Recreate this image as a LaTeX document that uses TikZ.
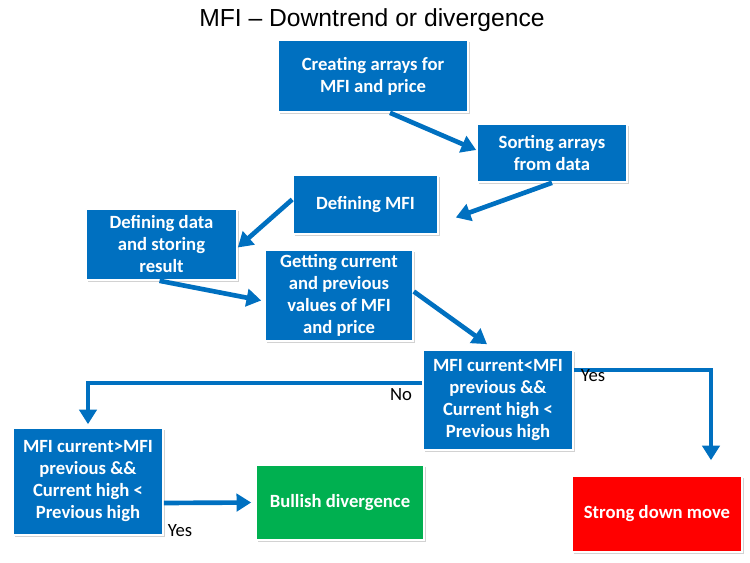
\documentclass[tikz,border=0pt]{standalone}
\usepackage{fontspec}
\setmainfont{Carlito}
\newfontfamily\titlefont{Liberation Sans}
\usetikzlibrary{arrows.meta,shadows}
\definecolor{flowblue}{RGB}{0,112,192}
\definecolor{flowgreen}{RGB}{0,176,80}
\definecolor{flowred}{RGB}{255,0,0}
\def\px{0.75pt}
\tikzset{
  stepbox/.style={fill=flowblue, draw=white, line width=1.2pt, text=white,
    font=\bfseries\fontsize{14}{16.5}\selectfont, align=center, inner sep=0pt,
    drop shadow={shadow xshift=1.5pt, shadow yshift=-1.5pt, fill=black!35}},
  flowarrow/.style={draw=flowblue, line width=3.5pt,
    -{Triangle[length=11pt,width=13pt]}},
  answer/.style={font=\fontsize{14}{16}\selectfont, inner sep=0pt}
}
\begin{document}
\begin{tikzpicture}[x=0.75pt, y=-0.75pt]

  \useasboundingbox (0,0) rectangle (750,563);

  \node[font=\titlefont\fontsize{18.5}{20}\selectfont] (title) at (372,20) {MFI – Downtrend or divergence};

  % process boxes
  \node[stepbox, minimum width=190*\px, minimum height=72*\px] (create) at (373,76) {Creating arrays for\\MFI and price};
  \node[stepbox, minimum width=150*\px, minimum height=58*\px] (sort) at (552,153) {Sorting arrays\\from data};
  \node[stepbox, minimum width=145*\px, minimum height=59*\px] (defmfi) at (365.5,204.5) {Defining MFI};
  \node[stepbox, minimum width=151*\px, minimum height=71*\px] (defdata) at (161.5,244.5) {Defining data\\and storing\\result};
  \node[stepbox, minimum width=148*\px, minimum height=91*\px] (getval) at (339,295.5) {Getting current\\and previous\\values of MFI\\and price};

  % conditions
  \node[stepbox, minimum width=150*\px, minimum height=100*\px] (down) at (498,400) {MFI current<MFI\\previous \&\&\\Current high <\\Previous high};
  \node[stepbox, minimum width=150*\px, minimum height=107*\px] (diverg) at (88,481.5) {MFI current>MFI\\previous \&\&\\Current high <\\Previous high};

  % results
  \node[stepbox, fill=flowgreen, minimum width=168*\px, minimum height=75*\px] (bull) at (340,502.5) {Bullish divergence};
  \node[stepbox, fill=flowred, minimum width=170*\px, minimum height=76*\px] (strong) at (657,514) {Strong down move};

  \draw[flowarrow] ([xshift=17*\px]create.south) -- ([yshift=3*\px]sort.west);
  \draw[flowarrow] (sort.south) -- ([xshift=17*\px,yshift=-13*\px]defmfi.east);
  \draw[flowarrow] ([yshift=5*\px]defmfi.west) -- ([yshift=-3*\px]defdata.east);
  \draw[flowarrow] ([xshift=-2*\px]defdata.south) -- ([xshift=-3*\px,yshift=-5*\px]getval.west);
  \draw[flowarrow] ([yshift=4*\px]getval.east) -- ([xshift=-11*\px,yshift=5*\px]down.north);

  % branches
  \draw[flowarrow] ([yshift=17*\px]down.west) -| ([yshift=3*\px]diverg.north);
  \draw[flowarrow] ([yshift=30*\px]down.east) -| ([xshift=54*\px,yshift=15*\px]strong.north);
  \draw[flowarrow] ([yshift=-21.5*\px]diverg.east) -- ([xshift=-4*\px]bull.west);

  \node[answer] (no) at (401,395) {No};
  \node[answer] (yesdown) at (593,376) {Yes};
  \node[answer] (yesbull) at (180,531) {Yes};

\end{tikzpicture}
\end{document}
